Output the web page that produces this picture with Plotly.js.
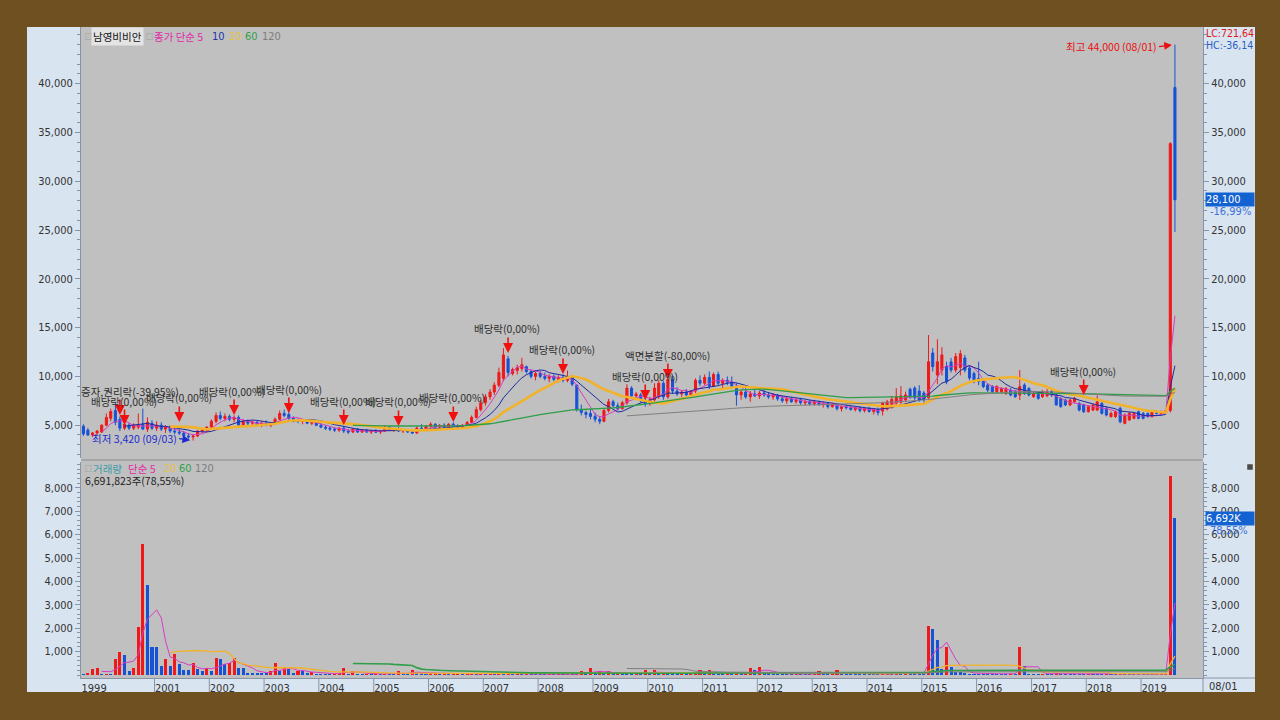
<!DOCTYPE html>
<html>
<head>
<meta charset="utf-8">
<script src="https://cdn.plot.ly/plotly-3.0.1.min.js"></script>
<style>
html,body{margin:0;padding:0;background:#6E5021;overflow:hidden;}
#chart{width:1280px;height:720px;}
</style>
</head>
<body>
<div id="chart"></div>
<script>
// ================= DATA =================
const firstMonth = [1999, 9];   // first monthly candle
const monthCount = 240;         // 1999-09 .. 2019-08

const open = [
 4900,4500,4000,4200,
 4300,5000,5700,6500,5600,4700,5000,4700,4800,5100,4600,5200,
 4700,5000,4600,4800,4400,4300,4200,3900,3800,3900,4400,4500,
 4800,5400,6000,5700,5900,5600,5800,5000,5400,5200,5300,5000,
 5200,5000,5200,5600,6200,6100,5700,5500,5400,5500,5200,5300,
 5000,4800,4700,4600,4500,4700,4400,4300,4600,4300,4500,4300,
 4400,4300,4400,4800,4500,4600,4400,4500,4300,4200,4700,4600,
 4900,5100,4800,5000,4800,5100,4900,4800,5000,5300,5800,6600,
 7300,7900,8400,9100,9800,11800,10300,10600,10800,11000,10500,10000,
 10300,10000,9800,10000,9700,9900,9600,10000,9100,6600,6300,6200,
 5900,5600,5400,6500,7400,7000,6700,7300,8800,8000,8100,7500,
 7200,7600,7900,9300,7900,9700,8500,8200,8400,8100,8500,9600,
 9300,9900,9000,10200,9300,9600,9400,9000,8100,8400,7900,8200,
 8000,8300,8100,7900,8100,7700,7500,7700,7400,7600,7300,7400,
 7200,7400,7100,7200,6900,7100,6700,6900,6800,6600,6800,6500,
 6700,6400,6600,6450,6650,6850,7270,7350,7580,8680,8800,8500,
 8300,7800,12400,10140,10650,11000,11480,10650,10920,11890,10860,10300,
 9800,9500,9120,8950,8430,8430,8260,8600,8430,8090,9120,8770,
 7920,8260,7920,8000,8430,8090,7750,7580,7080,7400,7230,7060,
 6380,6550,6550,7230,6720,5870,5870,6720,5190,5530,5700,6380,
 6210,6210,5870,6380,6210,6300,6500,39600
];
const high = [
 5100,4700,4300,4500,
 5100,6200,6700,7300,5900,5300,5200,5200,6200,6700,5800,5500,
 5400,5300,5000,5000,4800,4600,4400,4200,4000,4500,4700,4900,
 5600,6300,6400,6200,6100,6000,6000,5600,5600,5500,5400,5400,
 5500,5300,5800,6500,6600,6400,5900,5700,5600,5600,5400,5400,
 5200,5000,4900,4800,4800,4900,4600,4700,4700,4600,4600,4500,
 4600,4500,5000,4900,4700,4800,4600,4600,4500,4900,5100,5000,
 5300,5200,5100,5200,5200,5300,5100,5100,5400,6000,6900,7600,
 8200,8700,9400,10900,12900,12100,10900,11200,11900,11100,10700,10500,
 10600,10400,10200,10200,10100,10200,10600,10100,9200,7100,6500,6600,
 6300,5900,6700,7700,7600,7300,7500,9200,9000,8400,8300,7800,
 7900,9300,9600,9500,10000,10200,8900,8600,8700,8600,9800,10100,
 10200,10500,10400,10500,9800,10000,10000,9300,8600,8900,8500,8700,
 8500,8600,8400,8300,8200,8000,7900,7900,7800,7700,7600,7600,
 7600,7500,7400,7300,7300,7200,7000,7100,7000,6900,6900,6800,
 6900,6700,6800,7400,7600,8000,8800,9000,8450,8850,9000,9100,
 8500,14240,12900,13800,13000,11500,11900,12400,12700,12200,11100,10500,
 11500,9700,9300,9100,9100,8900,8900,8800,8600,10650,9300,8900,
 8400,8400,8600,8700,8600,8200,7900,7700,7700,7900,7400,7200,
 7000,7200,8060,7400,6900,6400,6500,6900,6200,6350,6300,6500,
 6350,6300,6450,6500,6500,6600,34000,44000
];
const low = [
 3900,3900,3800,4000,
 4200,4900,5400,5000,4400,4500,4500,4500,4600,4500,4300,4500,
 4400,4400,4200,4200,4100,4000,3700,3600,3420,3800,4200,4300,
 4700,5200,5500,5400,5400,5300,4700,4900,5000,4900,4900,4800,
 4900,4800,5100,5500,5800,5500,5300,5200,5100,5100,5000,4900,
 4700,4500,4400,4300,4300,4200,4100,4200,4200,4200,4200,4100,
 4200,4100,4300,4400,4300,4300,4200,4200,4100,4100,4500,4500,
 4700,4700,4600,4700,4700,4800,4600,4700,4900,5200,5700,6400,
 7000,7600,8100,8900,9500,10000,10100,10200,10500,10300,9800,9600,
 9800,9600,9400,9500,9400,9400,9400,9000,6400,6000,5700,5600,
 5300,5100,5300,6300,6800,6500,6600,7100,7800,7600,7300,6900,
 7000,7400,7700,7600,7700,8200,8000,7900,8000,7900,8300,9000,
 9100,8700,8900,9100,8800,9100,8900,7000,7600,7700,7400,7900,
 7700,7900,7700,7600,7500,7300,7200,7300,7200,7100,7000,7000,
 7000,7000,6800,6700,6800,6500,6400,6600,6500,6400,6300,6300,
 6300,6100,6000,6000,6500,6700,7100,7200,7400,7700,7600,7400,
 7300,7700,10500,9200,10100,9200,10400,10400,10100,10400,9600,9300,
 9100,8800,8400,8300,8300,8300,8100,7950,7800,7580,8100,7950,
 7800,7600,7800,7900,7900,7000,6800,6950,6950,7300,6400,6250,
 6300,6450,6450,6100,5900,5800,5750,5200,5100,5450,5600,5600,
 5600,5800,5800,6100,6100,6200,6300,24800
];
const close = [
 4100,4000,4200,4400,
 5000,5800,6400,5300,4700,5100,4700,5000,5000,4600,5300,4700,
 5000,4600,4800,4400,4300,4200,3900,3800,3900,4400,4600,4800,
 5400,6000,5700,5900,5600,5800,5000,5400,5200,5300,5000,5200,
 5000,5200,5600,6200,6000,5700,5500,5400,5500,5200,5300,5000,
 4800,4700,4600,4500,4700,4400,4300,4600,4300,4500,4300,4400,
 4300,4400,4800,4500,4600,4400,4500,4300,4200,4700,4600,4900,
 5100,4800,5000,4800,5100,4900,4800,5000,5300,5800,6600,7300,
 7900,8400,9100,10400,12200,10400,10700,10900,11200,10500,10000,10300,
 10000,9800,10000,9700,9900,9600,10000,9200,6600,6300,6100,5900,
 5600,5400,6500,7400,7000,6700,7300,8800,8000,8200,7500,7200,
 7600,8800,9300,7900,9700,8500,8200,8400,8100,8500,9600,9300,
 9900,9000,10200,9300,9600,9400,9000,8100,8400,7900,8200,8000,
 8300,8100,7900,8100,7700,7500,7700,7400,7600,7300,7400,7200,
 7400,7100,7200,6900,7100,6700,6900,6800,6600,6800,6500,6700,
 6400,6600,6300,7250,7400,7650,7890,8000,8100,7860,7800,7580,
 7600,11500,11000,11500,12200,9450,10650,12040,12320,10650,9830,9450,
 9450,8950,8600,8430,8950,8770,8770,8090,7920,8950,8260,8090,
 8260,7750,8430,8430,8090,7080,6900,7080,7580,7750,6550,6380,
 6890,7060,7390,6210,6040,6210,6380,5350,6040,6210,6210,5700,
 5700,5870,6380,6210,6400,6500,33850,28100
];
// monthly volume, thousands of shares
const volumeK = [
 50,100,250,300,
 50,60,60,680,1000,850,150,300,2050,5600,3850,1200,
 1200,380,680,380,900,450,210,210,500,250,150,300,
 150,740,680,450,500,740,300,300,100,100,100,100,
 100,150,500,150,330,250,100,150,150,100,120,60,
 60,60,50,60,100,280,60,150,50,40,60,40,
 50,40,60,50,40,150,60,60,220,100,100,60,
 80,100,50,60,40,50,60,40,50,60,50,80,
 60,70,60,80,50,60,40,50,40,50,40,40,
 40,30,40,30,40,30,40,30,60,150,120,280,
 80,150,60,150,60,80,60,60,60,80,60,200,
 60,200,60,120,60,60,50,60,50,60,80,200,
 60,200,60,50,50,60,40,60,50,60,300,200,
 330,120,80,60,50,40,40,40,50,40,40,40,
 60,150,60,50,60,200,50,40,40,40,40,40,
 40,40,40,50,60,50,100,60,120,120,60,60,
 60,2090,1970,1500,250,1200,350,120,120,80,60,60,
 60,60,50,50,50,50,50,60,60,1200,380,60,
 60,50,60,60,50,80,60,60,50,50,50,50,
 60,60,60,50,60,60,50,70,50,50,50,40,
 40,40,40,50,50,60,8519,6692
];

const priceMAPeriods = [5, 10, 20, 60, 120];
const volumeMAPeriods = [5, 20, 60, 120];

const yearTickDates = ['1999-08-30','2001-01-01','2002-01-01','2003-01-01','2004-01-01','2005-01-01',
  '2006-01-01','2007-01-01','2008-01-01','2009-01-01','2010-01-01','2011-01-01','2012-01-01',
  '2013-01-01','2014-01-01','2015-01-01','2016-01-01','2017-01-01','2018-01-01','2019-01-01'];
const yearTickText = ['1999','2001','2002','2003','2004','2005','2006','2007','2008','2009','2010',
  '2011','2012','2013','2014','2015','2016','2017','2018','2019'];
const priceTicks = [5000,10000,15000,20000,25000,30000,35000,40000];
const volumeTicks = [1000,2000,3000,4000,5000,6000,7000,8000];

const eventLabels = ['증자,권리락(-39,95%)','배당락(0,00%)','배당락(0,00%)','배당락(0,00%)','배당락(0,00%)',
  '배당락(0,00%)','배당락(0,00%)','배당락(0,00%)','배당락(0,00%)','배당락(0,00%)','액면분할(-80,00%)',
  '배당락(0,00%)','배당락(0,00%)'];
const eventMonths = ['2000-05','2000-06','2001-06','2002-06','2003-06','2004-06','2005-06','2006-06',
  '2007-06','2008-06','2010-05','2009-12','2017-12'];
const eventLevels = [6045,5020,5330,6045,6250,5020,4920,5330,12400,10250,9730,7580,8090];

// ================= BUILD =================
const months = [];
for (let k = 0; k < monthCount; k++) {
  const t = firstMonth[1] - 1 + k;
  const yy = firstMonth[0] + Math.floor(t / 12);
  const mm = t % 12 + 1;
  months.push(yy + '-' + String(mm).padStart(2, '0') + '-15');
}
function sma(arr, n) {
  return arr.map((_, i) => {
    if (i < n - 1) return null;
    let s = 0;
    for (let j = i - n + 1; j <= i; j++) s += arr[j];
    return s / n;
  });
}
const UP = '#F01818', DN = '#1652D6';
const NUM = '"Liberation Sans Narrow", "DejaVu Sans Condensed", "Arial Narrow", "Liberation Sans", sans-serif';
const KR = '"Noto Sans CJK KR", "Noto Sans", sans-serif';
const MA_COL = {5: '#DA3CC4', 10: '#1E2A9E', 20: '#F2B22A', 60: '#2E9E48', 120: '#808080'};
const MA_W = {5: 1, 10: 1, 20: 2.6, 60: 1.3, 120: 1};
const VMA_W = {5: 1, 20: 1.3, 60: 1.6, 120: 1};

const traces = [];
traces.push({
  type: 'candlestick', x: months, open: open, high: high, low: low, close: close,
  xaxis: 'x', yaxis: 'y', whiskerwidth: 0, hoverinfo: 'skip', showlegend: false,
  increasing: {line: {color: UP, width: 1}, fillcolor: UP},
  decreasing: {line: {color: DN, width: 1}, fillcolor: DN}
});
priceMAPeriods.forEach(p => traces.push({
  type: 'scatter', mode: 'lines', x: months, y: sma(close, p), xaxis: 'x', yaxis: 'y',
  line: {color: MA_COL[p], width: MA_W[p]}, hoverinfo: 'skip', showlegend: false
}));
const volColors = volumeK.map((v, i) => (i > 0 && v > volumeK[i - 1]) ? UP : DN);
traces.push({
  type: 'bar', x: months, y: volumeK, xaxis: 'x', yaxis: 'y2', width: 1.75e9,
  marker: {color: volColors, line: {width: 0}}, hoverinfo: 'skip', showlegend: false
});
volumeMAPeriods.forEach(p => traces.push({
  type: 'scatter', mode: 'lines', x: months, y: sma(volumeK, p), xaxis: 'x', yaxis: 'y2',
  line: {color: MA_COL[p], width: VMA_W[p]}, hoverinfo: 'skip', showlegend: false
}));
// carriers so right-hand axes are drawn
traces.push({type: 'scatter', mode: 'lines', x: months, y: close, xaxis: 'x', yaxis: 'y3',
  line: {width: 0}, opacity: 0, hoverinfo: 'skip', showlegend: false});
traces.push({type: 'scatter', mode: 'lines', x: months, y: volumeK, xaxis: 'x', yaxis: 'y4',
  line: {width: 0}, opacity: 0, hoverinfo: 'skip', showlegend: false});

// ---- geometry helpers (pixel -> paper) ----
const L = 81, R = 77, T = 27, B = 42, W = 1280, H = 720;
const PW = W - L - R, PH = H - T - B;
const PX = x => (x - L) / PW;
const PY = y => (H - B - y) / PH;
const priceRange = [1639, 45800];
const volRange = [-128, 9103];
const AX = '#8795A6';

function yAxisCfg(extra) {
  return Object.assign({
    showgrid: false, zeroline: false, showline: true, linecolor: AX, linewidth: 1,
    ticks: 'outside', ticklen: 5, tickcolor: AX, tickwidth: 1,
    tickfont: {family: NUM, size: 11, color: '#333'}, fixedrange: true
  }, extra);
}

const shapes = [
  {type: 'rect', xref: 'paper', yref: 'paper', x0: PX(27), x1: PX(1255), y0: PY(692), y1: PY(27),
   fillcolor: '#D9E4F1', line: {width: 0}, layer: 'below'},
  {type: 'rect', xref: 'paper', yref: 'paper', x0: 0, x1: 1, y0: 0, y1: 1,
   fillcolor: '#C0C0C0', line: {width: 0}, layer: 'below'},
  {type: 'line', xref: 'paper', yref: 'paper', x0: 0, x1: 1, y0: PY(460), y1: PY(460),
   line: {color: '#9C9C9C', width: 1.5}, layer: 'below'},
  {type: 'line', xref: 'paper', yref: 'paper', x0: 1, x1: 1, y0: 0, y1: PY(692),
   line: {color: AX, width: 1}},
  {type: 'line', xref: 'paper', yref: 'paper', x0: 1, x1: PX(1255), y0: 0, y1: 0,
   line: {color: AX, width: 1}},
  {type: 'rect', xref: 'paper', yref: 'paper', x0: PX(1247), x1: PX(1253), y0: PY(470), y1: PY(464),
   fillcolor: '#4A4A4A', line: {color: '#E0E0E0', width: 0.5}}
];
yearTickDates.slice(1).forEach(d => shapes.push({
  type: 'line', xref: 'x', yref: 'paper', x0: d, x1: d, y0: 0, y1: PY(692),
  line: {color: AX, width: 1}
}));

const ann = [];
function txt(px, py, text, color, size, fam, extra) {
  ann.push(Object.assign({xref: 'paper', yref: 'paper', x: PX(px), y: PY(py), xanchor: 'left',
    yanchor: 'middle', showarrow: false, text: text, borderpad: 0,
    font: {family: fam || KR, size: size || 10.5, color: color}}, extra || {}));
}
// price legend
txt(84, 36, '□', '#808080', 7);
txt(91, 36, '남영비비안', '#111', 10.5, KR, {bgcolor: '#E4E4E4', borderpad: 1});
txt(145, 36, '□', '#808080', 7);
txt(153, 36, '종가 단순 5', '#E02AA8', 10.5);
txt(211, 36, '10', '#2234A6', 11, NUM);
txt(228, 36, '20', '#E8C048', 11, NUM);
txt(244, 36, '60', '#30A048', 11, NUM);
txt(261, 36, '120', '#7E7E7E', 11, NUM);
// volume legend
txt(84, 468, '□', '#808080', 7);
txt(92, 468, '거래량', '#3A9EA8', 10.5);
txt(127, 468, '단순 5', '#E02AA8', 10.5);
txt(163, 468, '20', '#E8C048', 11, NUM);
txt(178, 468, '60', '#30A048', 11, NUM);
txt(194, 468, '120', '#7E7E7E', 11, NUM);
txt(84, 480, '6,691,823주(78,55%)', '#222', 10.5);
// right side
txt(1205, 33, 'LC:721,64', '#E01818', 10.5, NUM);
txt(1205, 45, 'HC:-36,14', '#2A5EC4', 10.5, NUM);
txt(1208, 686, '08/01', '#333', 11, NUM);
ann.push({xref: 'paper', yref: 'y', x: PX(1205), y: close[monthCount - 1], xanchor: 'left', yanchor: 'middle',
  showarrow: false, text: '28,100', bgcolor: '#1262D2', borderpad: 0, width: 48, align: 'left',
  font: {family: NUM, size: 11, color: '#FFFFFF'}});
ann.push({xref: 'paper', yref: 'y', x: PX(1208), y: close[monthCount - 1], yshift: -12, xanchor: 'left',
  yanchor: 'middle', showarrow: false, text: '-16,99%', font: {family: NUM, size: 11, color: '#3C72D4'}});
ann.push({xref: 'paper', yref: 'y2', x: PX(1205), y: volumeK[monthCount - 1], xanchor: 'left', yanchor: 'middle',
  showarrow: false, text: '6,692K', bgcolor: '#1262D2', borderpad: 0, width: 48, align: 'left',
  font: {family: NUM, size: 11, color: '#FFFFFF'}});
ann.push({xref: 'paper', yref: 'y2', x: PX(1208), y: volumeK[monthCount - 1], yshift: -12, xanchor: 'left',
  yanchor: 'middle', showarrow: false, text: '78,55%', font: {family: NUM, size: 11, color: '#3C72D4'}});

// events (arrows + labels)
const labelDx = [10, -1, 0, -2, 0, -1, -1, -1, -1, -1, 0, 0, -1];
eventMonths.forEach((m, k) => {
  const xd = m + '-15';
  ann.push({xref: 'x', yref: 'y', x: xd, y: eventLevels[k], ax: 0, ay: -17, text: '',
    showarrow: true, arrowhead: 2, arrowsize: 1.25, arrowwidth: 1.6, arrowcolor: '#F01010'});
  ann.push({xref: 'x', yref: 'y', x: xd, y: eventLevels[k], xshift: labelDx[k], yshift: 24,
    showarrow: false, text: eventLabels[k], font: {family: KR, size: 10.5, color: '#2E2E2E'}});
});
// high / low markers
ann.push({xref: 'x', yref: 'y', x: months[monthCount - 1], y: Math.max(...high), ax: -16, ay: 2,
  xanchor: 'right', text: '최고 44,000 (08/01)', showarrow: true, arrowhead: 2, arrowsize: 1.1,
  arrowwidth: 1.4, arrowcolor: '#E81010', standoff: 3, font: {family: KR, size: 10.5, color: '#E81010'}});
ann.push({xref: 'x', yref: 'y', x: months[24], y: Math.min(...low), ax: -14, ay: -2,
  xanchor: 'right', text: '최저 3,420 (09/03)', showarrow: true, arrowhead: 2, arrowsize: 1.1,
  arrowwidth: 1.4, arrowcolor: '#1A2AD0', standoff: 3, font: {family: KR, size: 10.5, color: '#1A2AD0'}});

const layout = {
  width: W, height: H,
  margin: {l: L, r: R, t: T, b: B, pad: 0},
  paper_bgcolor: '#6E5021', plot_bgcolor: 'rgba(0,0,0,0)',
  showlegend: false, dragmode: false, bargap: 0,
  xaxis: {
    type: 'date', range: ['1999-08-30', '2020-02-18'], anchor: 'y2', domain: [0, 1],
    tickmode: 'array', tickvals: yearTickDates, ticktext: yearTickText,
    ticks: '', ticklabelposition: 'outside right', showline: true, linecolor: AX,
    showgrid: false, zeroline: false, rangeslider: {visible: false}, fixedrange: true,
    tickfont: {family: NUM, size: 11, color: '#333'}
  },
  yaxis: yAxisCfg({domain: [PY(458), 1], range: priceRange, anchor: 'x', side: 'left',
    tickmode: 'array', tickvals: priceTicks, tickformat: ',d',
    minor: {dtick: 1000, tick0: 0, ticks: 'outside', ticklen: 3, tickcolor: AX, showgrid: false}}),
  yaxis3: yAxisCfg({range: priceRange, overlaying: 'y', anchor: 'x', side: 'right',
    tickmode: 'array', tickvals: priceTicks, tickformat: ',d',
    minor: {dtick: 1000, tick0: 0, ticks: 'outside', ticklen: 3, tickcolor: AX, showgrid: false}}),
  yaxis2: yAxisCfg({domain: [0, PY(462)], range: volRange, anchor: 'x', side: 'left',
    tickmode: 'array', tickvals: volumeTicks, tickformat: ',d', ticksuffix: 'K',
    minor: {dtick: 200, tick0: 0, ticks: 'outside', ticklen: 3, tickcolor: AX, showgrid: false}}),
  yaxis4: yAxisCfg({range: volRange, overlaying: 'y2', anchor: 'x', side: 'right',
    tickmode: 'array', tickvals: volumeTicks, tickformat: ',d', ticksuffix: 'K',
    minor: {dtick: 200, tick0: 0, ticks: 'outside', ticklen: 3, tickcolor: AX, showgrid: false}}),
  shapes: shapes,
  annotations: ann
};

Plotly.newPlot('chart', traces, layout, {displayModeBar: false, staticPlot: true});
</script>
</body>
</html>
